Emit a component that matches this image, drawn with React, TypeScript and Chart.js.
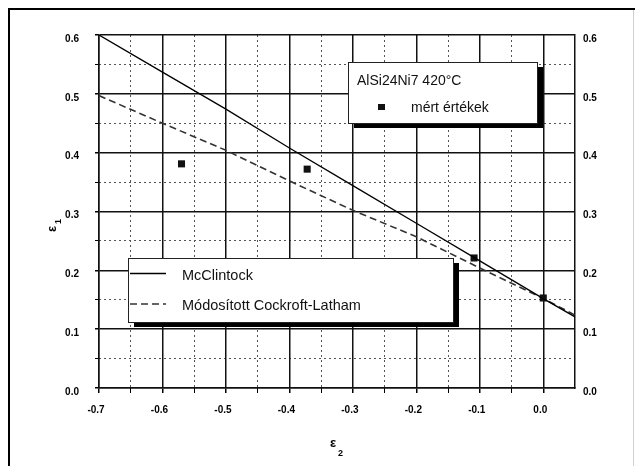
import React, { useEffect, useRef } from "react";
import { Chart, registerables } from "chart.js";

Chart.register(...registerables);

// ---- data ----
const xMajorTicks = [-0.7, -0.6, -0.5, -0.4, -0.3, -0.2, -0.1, 0.0];
const xMinorTicks = [-0.65, -0.55, -0.45, -0.35, -0.25, -0.15, -0.05];
const yMajorTicks = [0.0, 0.1, 0.2, 0.3, 0.4, 0.5, 0.6];
const yMinorTicks = [0.05, 0.15, 0.25, 0.35, 0.45, 0.55];
const xMin = -0.7;
const xMax = 0.05;
const yMin = 0.0;
const yMax = 0.6;

const mcClintockX = [-0.7, -0.6, -0.5, -0.4, -0.3, -0.2, -0.1, 0.0, 0.05];
const mcClintockY = [0.6, 0.537, 0.474, 0.408, 0.344, 0.28, 0.216, 0.152, 0.121];

const cockroftX = [-0.7, -0.6, -0.5, -0.4, -0.3, -0.2, -0.1, 0.0, 0.05];
const cockroftY = [0.497, 0.45, 0.404, 0.352, 0.302, 0.257, 0.204, 0.152, 0.124];

const measuredX = [-0.57, -0.372, -0.109, 0.0];
const measuredY = [0.381, 0.372, 0.221, 0.153];

const legendTitle = "AlSi24Ni7 420°C";
const measuredLabel = "mért értékek";
const mcClintockLabel = "McClintock";
const cockroftLabel = "Módosított Cockroft-Latham";
const xTitle = "ε";
const xTitleSub = "2";
const yTitle = "ε";
const yTitleSub = "1";

const FONT = "'Liberation Sans', Arial, sans-serif";
const DASH = [7, 4];

const tickFont = { family: FONT, size: 10, weight: "bold" as const };
const fmt = (v: number | string) => Number(v).toFixed(1);

const decorPlugin = {
  id: "decor",
  beforeDraw(chart: any) {
    const ctx = chart.ctx;
    ctx.save();
    ctx.fillStyle = "#fff";
    ctx.fillRect(0, 0, chart.width, chart.height);
    ctx.restore();
  },
  afterDatasetsDraw(chart: any) {
    const ctx = chart.ctx;
    ctx.save();
    // frame
    ctx.fillStyle = "#000";
    ctx.fillRect(8, 8, 2, chart.height - 8);
    ctx.fillRect(8, 8, chart.width - 8, 2);
    ctx.fillStyle = "#d0d0d0";
    ctx.fillRect(633, 10, 1, chart.height - 10);

    // legend box 1
    const drawBox = (x: number, y: number, w: number, h: number) => {
      ctx.fillStyle = "#000";
      ctx.fillRect(x + 6, y + 5, w, h);
      ctx.fillStyle = "#fff";
      ctx.fillRect(x, y, w, h);
      ctx.strokeStyle = "#222";
      ctx.lineWidth = 1;
      ctx.setLineDash([]);
      ctx.strokeRect(x + 0.5, y + 0.5, w, h);
    };
    drawBox(348, 62, 189, 61);
    ctx.fillStyle = "#111";
    ctx.textAlign = "left";
    ctx.textBaseline = "alphabetic";
    ctx.font = `14px ${FONT}`;
    ctx.fillText(legendTitle, 357, 85);
    ctx.fillText(measuredLabel, 411, 112);
    ctx.fillRect(378, 104, 7, 6);

    // legend box 2
    drawBox(128, 258, 325, 64);
    ctx.font = `14.5px ${FONT}`;
    ctx.fillStyle = "#111";
    ctx.fillText(mcClintockLabel, 182, 280);
    ctx.fillText(cockroftLabel, 182, 310);
    ctx.strokeStyle = "#000";
    ctx.lineWidth = 1.3;
    ctx.beginPath();
    ctx.moveTo(130, 273.5);
    ctx.lineTo(166, 273.5);
    ctx.stroke();
    ctx.strokeStyle = "#333";
    ctx.lineWidth = 1.6;
    ctx.setLineDash(DASH);
    ctx.beginPath();
    ctx.moveTo(130, 304);
    ctx.lineTo(166, 304);
    ctx.stroke();
    ctx.setLineDash([]);

    // x title
    ctx.fillStyle = "#000";
    ctx.font = `bold 13px ${FONT}`;
    ctx.textAlign = "center";
    ctx.fillText(xTitle, 333, 447);
    ctx.font = `bold 9px ${FONT}`;
    ctx.textAlign = "left";
    ctx.fillText(xTitleSub, 338, 456);

    // y title (rotated)
    ctx.translate(52, 229);
    ctx.rotate(-Math.PI / 2);
    ctx.font = `bold 13px ${FONT}`;
    ctx.textAlign = "center";
    ctx.fillText(yTitle, 0, 4);
    ctx.font = `bold 9px ${FONT}`;
    ctx.textAlign = "left";
    ctx.fillText(yTitleSub, 5, 9);
    ctx.restore();
  },
};

export default function App() {
  const ref = useRef<HTMLCanvasElement | null>(null);

  useEffect(() => {
    document.body.style.margin = "0";
    if (!ref.current) return;
    const setTicks = (vals: number[]) => (axis: any) => {
      axis.ticks = vals.map((value) => ({ value }));
    };
    const chart = new Chart(ref.current, {
      type: "scatter",
      data: {
        datasets: [
          {
            label: mcClintockLabel,
            data: mcClintockX.map((x, i) => ({ x, y: mcClintockY[i] })),
            showLine: true,
            borderColor: "#000",
            borderWidth: 1.3,
            pointRadius: 0,
            tension: 0,
          },
          {
            label: cockroftLabel,
            data: cockroftX.map((x, i) => ({ x, y: cockroftY[i] })),
            showLine: true,
            borderColor: "#333",
            borderWidth: 1.6,
            borderDash: DASH,
            pointRadius: 0,
            tension: 0,
          },
          {
            label: measuredLabel,
            data: measuredX.map((x, i) => ({ x, y: measuredY[i] })),
            showLine: false,
            pointStyle: "rect",
            pointRadius: 5,
            backgroundColor: "#111",
            borderColor: "#111",
            borderWidth: 0,
          },
        ],
      },
      options: {
        animation: false,
        responsive: false,
        devicePixelRatio: 1,
        layout: { padding: { top: 35, left: 0, right: 0, bottom: 0 } },
        plugins: { legend: { display: false }, tooltip: { enabled: false } },
        scales: {
          xMinor: {
            type: "linear",
            position: "bottom",
            weight: 0,
            min: xMin,
            max: xMax,
            afterBuildTicks: setTicks(xMinorTicks),
            afterFit: (s: any) => { s.height = 0; },
            ticks: { display: false },
            grid: { color: "#555", lineWidth: 1, tickLength: 5, tickColor: "#000", z: -2 },
            border: { display: false, dash: [2, 3] },
          },
          x: {
            type: "linear",
            position: "bottom",
            weight: 1,
            min: xMin,
            max: xMax,
            afterBuildTicks: setTicks(xMajorTicks),
            afterFit: (s: any) => { s.height = 78; },
            ticks: { font: tickFont, color: "#000", padding: 11, labelOffset: -3, callback: fmt },
            grid: { color: "#111", lineWidth: 1.5, tickLength: 5, tickColor: "#000" },
            border: { display: true, color: "#111", width: 1.5 },
          },
          yMinor: {
            type: "linear",
            position: "left",
            weight: 0,
            min: yMin,
            max: yMax,
            afterBuildTicks: setTicks(yMinorTicks),
            afterFit: (s: any) => { s.width = 0; },
            ticks: { display: false },
            grid: { color: "#555", lineWidth: 1, tickLength: 4, tickColor: "#000", z: -2 },
            border: { display: false, dash: [2, 3] },
          },
          y: {
            type: "linear",
            position: "left",
            weight: 1,
            min: yMin,
            max: yMax,
            afterBuildTicks: setTicks(yMajorTicks),
            afterFit: (s: any) => { s.width = 99; },
            ticks: { font: tickFont, color: "#000", padding: 16, labelOffset: 4, callback: fmt },
            grid: { color: "#111", lineWidth: 1.5, tickLength: 4, tickColor: "#000" },
            border: { display: true, color: "#111", width: 1.5 },
          },
          y2: {
            type: "linear",
            position: "right",
            weight: 1,
            min: yMin,
            max: yMax,
            afterBuildTicks: setTicks(yMajorTicks),
            afterFit: (s: any) => { s.width = 60; },
            ticks: { font: tickFont, color: "#000", padding: 8, labelOffset: 4, callback: fmt },
            grid: { drawOnChartArea: false, drawTicks: false },
            border: { display: true, color: "#111", width: 1.5 },
          },
        },
      } as any,
      plugins: [decorPlugin],
    });
    return () => chart.destroy();
  }, []);

  return (
    <div style={{ position: "absolute", left: 0, top: 0, width: 635, height: 466 }}>
      <canvas ref={ref} width={635} height={466} style={{ display: "block" }} />
    </div>
  );
}
